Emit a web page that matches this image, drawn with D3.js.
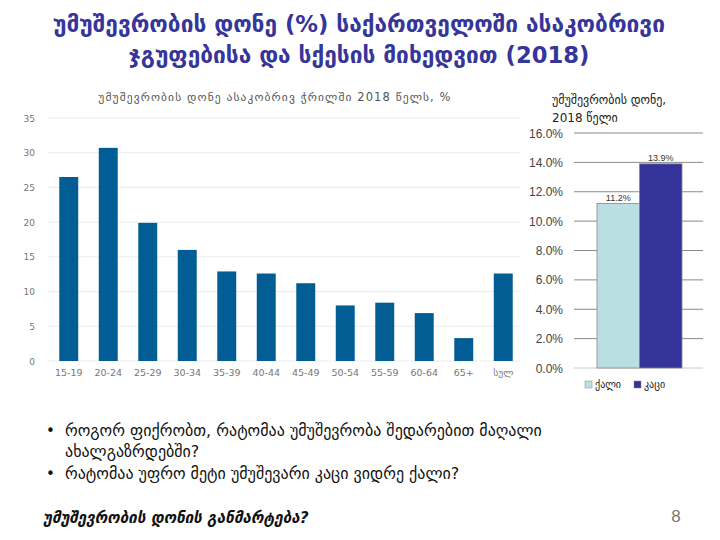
<!DOCTYPE html>
<html><head><meta charset="utf-8">
<script src="https://cdn.jsdelivr.net/npm/d3@7"></script>
<style>body{margin:0;background:#fff}svg{display:block}</style>
</head><body>
<svg id="c" width="720" height="540"></svg>
<script>
// ---- data ----
const ageGroups = ["15-19","20-24","25-29","30-34","35-39","40-44","45-49","50-54","55-59","60-64","65+","სულ"];
const ageRates = [26.5, 30.7, 19.9, 16.0, 12.9, 12.6, 11.2, 8.0, 8.4, 6.9, 3.3, 12.6];
const ageTicks = [0, 5, 10, 15, 20, 25, 30, 35];
const sexes = ["ქალი", "კაცი"];
const sexRates = [11.2, 13.9];
const sexTicks = [0, 2, 4, 6, 8, 10, 12, 14, 16];
const titleLines = ["უმუშევრობის დონე (%) საქართველოში ასაკობრივი", "ჯგუფებისა და სქესის მიხედვით (2018)"];
const leftTitle = "უმუშევრობის დონე ასაკობრივ ჭრილში 2018 წელს, %";
const rightTitle = ["უმუშევრობის დონე,", "2018 წელი"];
const bullets = ["როგორ ფიქრობთ, რატომაა უმუშევრობა შედარებით მაღალი", "ახალგაზრდებში?", "რატომაა უფრო მეტი უმუშევარი კაცი ვიდრე ქალი?"];
const footer = "უმუშევრობის დონის განმარტება?";
const pageNo = "8";

const svg = d3.select("#c");
const F = "'DejaVu Sans', sans-serif";

// main title
svg.selectAll("text.title").data(titleLines).join("text")
  .attr("x", 359).attr("y", (d,i)=> 32 + i*31)
  .attr("text-anchor","middle").attr("font-family",F).attr("font-weight","bold")
  .attr("font-size", 22.7).attr("fill","#35359a").text(d=>d);

// ---- left chart ----
const x = d3.scaleBand().domain(ageGroups).range([49, 523]).paddingInner(0.52).paddingOuter(0.26);
const y = d3.scaleLinear().domain([0,35]).range([361,118]);
const gL = svg.append("g");
gL.selectAll("line.grid").data(ageTicks).join("line")
  .attr("x1",48).attr("x2",520).attr("y1",d=>y(d)).attr("y2",d=>y(d))
  .attr("stroke","#e8ecef").attr("stroke-width",1);
gL.selectAll("text.yt").data(ageTicks).join("text")
  .attr("x",35).attr("y",d=>y(d)+3.5).attr("text-anchor","end")
  .attr("font-family",F).attr("font-size",9).attr("fill","#777").text(d=>d);
gL.selectAll("rect").data(ageRates).join("rect")
  .attr("x",(d,i)=>x(ageGroups[i])).attr("width",x.bandwidth())
  .attr("y",d=>y(d)).attr("height",d=>y(0)-y(d)).attr("fill","#025d95");
gL.selectAll("text.xt").data(ageGroups).join("text")
  .attr("x",d=>x(d)+x.bandwidth()/2).attr("y",376).attr("text-anchor","middle")
  .attr("font-family",F).attr("font-size",9.5).attr("fill","#777").text(d=>d);
gL.append("text").attr("x",275).attr("y",101).attr("text-anchor","middle")
  .attr("font-family",F).attr("font-size",11.5).attr("letter-spacing",1.1).attr("fill","#555").text(leftTitle);

// ---- right chart ----
const x2 = d3.scaleBand().domain(sexes).range([597, 682]).padding(0);
const y2 = d3.scaleLinear().domain([0,16]).range([368,133]);
const gR = svg.append("g");
gR.selectAll("line.grid").data(sexTicks).join("line")
  .attr("x1",574).attr("x2",703).attr("y1",d=>y2(d)).attr("y2",d=>y2(d))
  .attr("stroke",(d,i)=> d===0 ? "#ccc" : "#8a8a8a").attr("stroke-width",1);
gR.selectAll("text.yt").data(sexTicks).join("text")
  .attr("x",563).attr("y",d=>y2(d)+4.5).attr("text-anchor","end")
  .attr("font-family","'Liberation Sans', Arial, sans-serif").attr("font-size",12).attr("fill","#444")
  .text(d=>d3.format(".1f")(d)+"%");
const colors = ["#badfe3","#333399"];
gR.selectAll("rect").data(sexRates).join("rect")
  .attr("x",(d,i)=>x2(sexes[i])).attr("width",x2.bandwidth())
  .attr("y",d=>y2(d)).attr("height",d=>y2(0)-y2(d))
  .attr("fill",(d,i)=>colors[i]).attr("stroke","#888").attr("stroke-width",0.8);
gR.selectAll("text.val").data(sexRates).join("text")
  .attr("x",(d,i)=>x2(sexes[i])+x2.bandwidth()/2).attr("y",d=>y2(d)-3)
  .attr("text-anchor","middle").attr("font-family","'Liberation Sans', Arial, sans-serif")
  .attr("font-size",9).attr("fill","#333").text(d=>d.toFixed(1)+"%");
gR.selectAll("text.rt").data(rightTitle).join("text")
  .attr("x",552).attr("y",(d,i)=>104 + i*18)
  .attr("font-family",F).attr("font-size",12).attr("fill","#222").text(d=>d);
const lg = gR.selectAll("g.lg").data(sexes).join("g")
  .attr("transform",(d,i)=>`translate(${585 + i*49},381)`);
lg.append("rect").attr("width",7).attr("height",7).attr("fill",(d,i)=>colors[i]).attr("stroke","#888").attr("stroke-width",0.5);
lg.append("text").attr("x",10).attr("y",7).attr("font-family",F).attr("font-size",10).attr("fill","#222").text(d=>d);

// ---- bullets ----
const bl = [{t:bullets[0],b:true,y:436},{t:bullets[1],b:false,y:457},{t:bullets[2],b:true,y:479}];
svg.selectAll("text.bt").data(bl).join("text")
  .attr("x",65).attr("y",d=>d.y).attr("font-family",F).attr("font-size",16).attr("fill","#111").text(d=>d.t);
svg.selectAll("text.bu").data(bl.filter(d=>d.b)).join("text")
  .attr("x",46).attr("y",d=>d.y).attr("font-family",F).attr("font-size",15).attr("fill","#111").text("•");
svg.append("text").attr("x",43).attr("y",523).attr("font-family",F).attr("font-size",15.3)
  .attr("font-weight","bold").attr("font-style","italic").attr("fill","#111").text(footer);
svg.append("text").attr("x",676).attr("y",522).attr("text-anchor","middle").attr("font-family","'Liberation Sans', Arial, sans-serif")
  .attr("font-size",17).attr("fill","#777").text(pageNo);
</script>
</body></html>
